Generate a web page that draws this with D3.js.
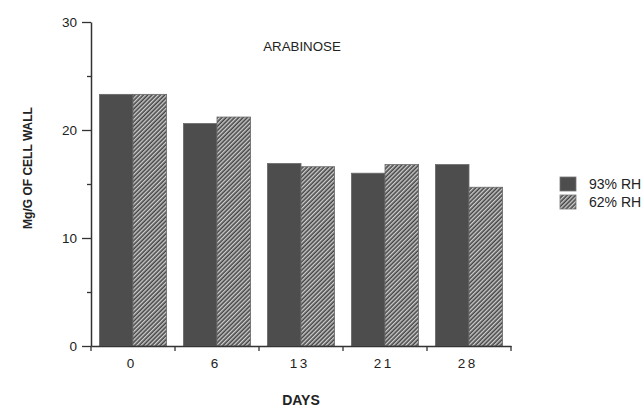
<!DOCTYPE html>
<html>
<head>
<meta charset="utf-8">
<script src="https://cdn.jsdelivr.net/npm/d3@7/dist/d3.min.js"></script>
<style>
  html, body { margin: 0; padding: 0; background: #fff; }
  svg { display: block; font-family: "Liberation Sans", Arial, Helvetica, sans-serif; }
</style>
</head>
<body>
<svg id="chart" width="644" height="408"></svg>
<script>
// Arabinose content of cell wall over storage time, two humidity levels
const days = ["0", "6", "13", "21", "28"];
const seriesNames = ["93% RH", "62% RH"];
const rh93 = [23.3, 20.6, 16.9, 16.0, 16.8];
const rh62 = [23.3, 21.2, 16.6, 16.8, 14.7];
const yTicks = [0, 10, 20, 30];
const yMinorTicks = [5, 15, 25];

const svg = d3.select("#chart");
const plotLeft = 91, plotRight = 511, plotTop = 22, plotBottom = 346;

const x = d3.scaleBand().domain(days).range([plotLeft, plotRight]).paddingInner(0).paddingOuter(0);
const xSub = d3.scaleBand().domain(seriesNames).range([0, x.bandwidth()]).paddingOuter(0.25).paddingInner(0);
const y = d3.scaleLinear().domain([0, 30]).range([plotBottom, plotTop]);

const defs = svg.append("defs");
const pat = defs.append("pattern")
  .attr("id", "hatch")
  .attr("patternUnits", "userSpaceOnUse")
  .attr("width", 3)
  .attr("height", 3)
  .attr("patternTransform", "rotate(45)");
pat.append("rect").attr("width", 3).attr("height", 3).attr("fill", "#454545");
pat.append("rect").attr("x", 0).attr("y", 0).attr("width", 1.4).attr("height", 3).attr("fill", "#cfcfcf");

const fills = { "93% RH": "#4d4d4d", "62% RH": "url(#hatch)" };

const data = days.map((d, i) => ({ day: d, values: [
  { key: "93% RH", value: rh93[i] },
  { key: "62% RH", value: rh62[i] }
]}));

// bars
const groups = svg.append("g").selectAll("g").data(data).join("g")
  .attr("transform", d => `translate(${x(d.day)},0)`);
groups.selectAll("rect").data(d => d.values).join("rect")
  .attr("x", d => xSub(d.key))
  .attr("y", d => y(d.value))
  .attr("width", xSub.bandwidth())
  .attr("height", d => y(0) - y(d.value))
  .attr("fill", d => fills[d.key])
  .attr("stroke", "#6a6a6a")
  .attr("stroke-width", 0.8);

// y axis
const yAxis = svg.append("g").attr("transform", `translate(${plotLeft},0)`)
  .call(d3.axisLeft(y).tickValues(yTicks).tickSize(9).tickPadding(5).tickSizeOuter(0));
svg.append("g").attr("transform", `translate(${plotLeft},0)`)
  .call(d3.axisLeft(y).tickValues(yMinorTicks).tickSize(4).tickFormat("").tickSizeOuter(0))
  .select(".domain").remove();

// x axis
const xAxis = svg.append("g").attr("transform", `translate(0,${plotBottom})`)
  .call(d3.axisBottom(x).tickSize(0).tickPadding(12));
svg.append("g").attr("transform", `translate(0,${plotBottom})`)
  .selectAll("line").data(d3.range(days.length + 1)).join("line")
  .attr("x1", i => plotLeft + i * x.step()).attr("x2", i => plotLeft + i * x.step())
  .attr("y1", 0).attr("y2", 5)
  .attr("stroke", "#333").attr("stroke-width", 1.3);

svg.selectAll(".domain").attr("stroke", "#333").attr("stroke-width", 1.5);
svg.selectAll(".tick line").attr("stroke", "#333").attr("stroke-width", 1.3);
svg.selectAll(".tick text").attr("font-size", 13.5).attr("fill", "#222")
  .attr("font-family", "'Liberation Sans', Arial, sans-serif");
xAxis.selectAll(".tick text").attr("letter-spacing", 2.5).attr("dx", -1.25);

// titles
svg.append("text").attr("x", 302).attr("y", 51).attr("text-anchor", "middle")
  .attr("font-size", 13.3).attr("fill", "#222").text("ARABINOSE");
svg.append("text").attr("x", 301).attr("y", 405).attr("text-anchor", "middle")
  .attr("font-size", 14).attr("font-weight", "bold").attr("fill", "#222").text("DAYS");
svg.append("text").attr("transform", "translate(32,168) rotate(-90)").attr("text-anchor", "middle")
  .attr("font-size", 12).attr("font-weight", "bold").attr("fill", "#222").text("Mg/G OF CELL WALL");

// legend
const legend = svg.append("g").attr("transform", "translate(560,177)");
seriesNames.forEach((s, i) => {
  const g = legend.append("g").attr("transform", `translate(0,${i * 18})`);
  g.append("rect").attr("width", 16).attr("height", 14).attr("fill", fills[s])
    .attr("stroke", "#777").attr("stroke-width", 0.8);
  g.append("text").attr("x", 29).attr("y", 12).attr("font-size", 14).attr("fill", "#222").text(s);
});
</script>
</body>
</html>
